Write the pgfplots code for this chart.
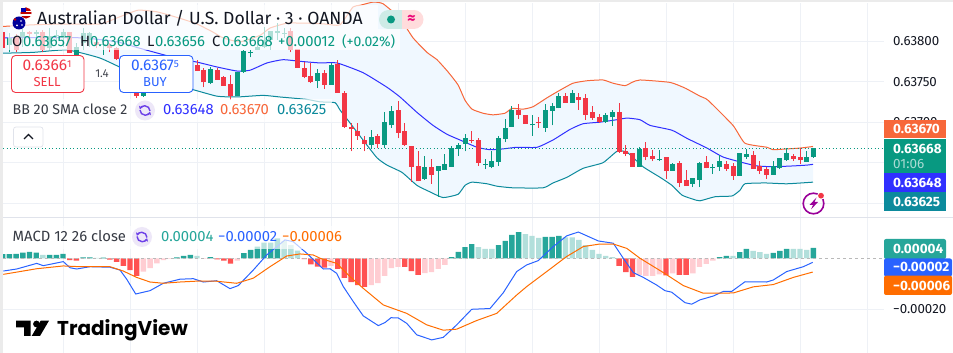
\documentclass[border=0pt]{standalone}
\usepackage{pgfplots}
\usepackage{pgfplotstable}
\pgfplotsset{compat=1.18}
\usepgfplotslibrary{fillbetween}
\usetikzlibrary{arrows.meta}
\usepackage{fontspec}
\setmainfont{Fira Sans}
\newfontfamily\logofont{Poppins}
\definecolor{cgreen}{HTML}{089981}
\definecolor{cred}{HTML}{F23645}
\definecolor{gridc}{HTML}{EEF1F6}
\definecolor{bup}{HTML}{F7673A}
\definecolor{bmid}{HTML}{3030FF}
\definecolor{blow}{HTML}{0C8A9C}
\definecolor{bfill}{HTML}{F0F8FF}
\definecolor{hteal}{HTML}{26A69A}
\definecolor{hlight}{HTML}{B2DFDB}
\definecolor{hred}{HTML}{FF5252}
\definecolor{hpink}{HTML}{FFCDD2}
\definecolor{mblue}{HTML}{2962FF}
\definecolor{morange}{HTML}{FF6D00}
\definecolor{txt}{HTML}{131722}
\definecolor{iconp}{HTML}{6C3FE8}
\definecolor{iconbg}{HTML}{EDE7F8}
\definecolor{sepc}{HTML}{E0E3EB}
\pgfplotstableread{
x o h l c
9.4 0.63795 0.63810 0.63786 0.63804
22.8 0.63805 0.63816 0.63793 0.63811
36.2 0.63809 0.63814 0.63795 0.63811
49.6 0.63791 0.63816 0.63789 0.63806
56.3 0.63806 0.63814 0.63798 0.63807
63 0.63804 0.63815 0.63793 0.63811
76.4 0.63783 0.63798 0.63783 0.63793
83.1 0.63798 0.63816 0.63789 0.63810
89.8 0.63801 0.63811 0.63793 0.63810
103.2 0.63795 0.63799 0.63783 0.63796
143.4 0.63732 0.63750 0.63731 0.63746
210.4 0.63748 0.63768 0.63747 0.63765
237.2 0.63732 0.63762 0.63732 0.63762
243.9 0.63762 0.63789 0.63761 0.63788
250.6 0.63785 0.63789 0.63780 0.63786
257.3 0.63789 0.63799 0.63789 0.63793
264 0.63793 0.63817 0.63791 0.63801
270.7 0.63801 0.63812 0.63789 0.63812
277.4 0.63810 0.63822 0.63801 0.63812
284.1 0.63809 0.63816 0.63804 0.63810
317.6 0.63751 0.63765 0.63742 0.63761
331 0.63746 0.63773 0.63746 0.63770
371.2 0.63672 0.63690 0.63668 0.63682
384.6 0.63672 0.63712 0.63668 0.63700
391.3 0.63696 0.63720 0.63693 0.63714
424.8 0.63630 0.63658 0.63629 0.63645
438.2 0.63640 0.63646 0.63608 0.63646
444.9 0.63641 0.63661 0.63641 0.63648
451.6 0.63645 0.63671 0.63645 0.63668
458.3 0.63667 0.63674 0.63658 0.63672
465 0.63673 0.63685 0.63664 0.63680
485.1 0.63647 0.63655 0.63642 0.63648
491.8 0.63645 0.63664 0.63643 0.63652
498.5 0.63651 0.63683 0.63646 0.63680
505.2 0.63679 0.63704 0.63675 0.63693
511.9 0.63694 0.63720 0.63694 0.63715
532 0.63696 0.63709 0.63683 0.63698
545.4 0.63693 0.63722 0.63688 0.63715
552.1 0.63714 0.63724 0.63696 0.63720
558.8 0.63717 0.63736 0.63717 0.63732
572.2 0.63724 0.63740 0.63724 0.63736
605.7 0.63700 0.63711 0.63699 0.63709
612.4 0.63706 0.63715 0.63695 0.63712
639.2 0.63645 0.63669 0.63645 0.63667
659.3 0.63653 0.63666 0.63652 0.63655
672.7 0.63640 0.63650 0.63640 0.63648
692.8 0.63624 0.63631 0.63620 0.63631
699.5 0.63629 0.63651 0.63620 0.63650
712.9 0.63643 0.63648 0.63636 0.63645
719.6 0.63645 0.63659 0.63640 0.63652
739.7 0.63634 0.63662 0.63634 0.63662
746.4 0.63657 0.63667 0.63655 0.63661
773.2 0.63635 0.63652 0.63635 0.63646
779.9 0.63643 0.63656 0.63642 0.63656
786.6 0.63653 0.63668 0.63652 0.63662
806.7 0.63651 0.63664 0.63651 0.63657
813.4 0.63657 0.63668 0.63656 0.63668
}\upT
\pgfplotstableread{
x o h l c
2.7 0.63811 0.63811 0.63791 0.63791
16.1 0.63805 0.63809 0.63786 0.63789
29.5 0.63811 0.63812 0.63798 0.63809
42.9 0.63811 0.63814 0.63786 0.63789
69.7 0.63811 0.63811 0.63785 0.63785
96.5 0.63799 0.63801 0.63791 0.63795
109.9 0.63795 0.63798 0.63786 0.63791
116.6 0.63791 0.63793 0.63777 0.63778
136.7 0.63745 0.63750 0.63730 0.63732
197 0.63770 0.63777 0.63763 0.63763
203.7 0.63764 0.63767 0.63743 0.63749
217.1 0.63764 0.63767 0.63752 0.63752
223.8 0.63756 0.63757 0.63745 0.63745
230.5 0.63747 0.63758 0.63727 0.63732
290.8 0.63812 0.63816 0.63786 0.63789
297.5 0.63790 0.63790 0.63767 0.63767
304.2 0.63767 0.63774 0.63754 0.63756
310.9 0.63757 0.63773 0.63748 0.63749
324.3 0.63761 0.63764 0.63741 0.63746
337.7 0.63772 0.63777 0.63736 0.63736
344.4 0.63736 0.63738 0.63693 0.63694
351.1 0.63694 0.63699 0.63664 0.63691
357.8 0.63689 0.63699 0.63678 0.63683
364.5 0.63678 0.63683 0.63664 0.63673
377.9 0.63683 0.63685 0.63668 0.63673
398 0.63715 0.63726 0.63680 0.63687
404.7 0.63689 0.63699 0.63671 0.63672
411.4 0.63671 0.63671 0.63626 0.63645
418.1 0.63646 0.63664 0.63627 0.63627
431.5 0.63645 0.63655 0.63624 0.63635
471.7 0.63678 0.63689 0.63674 0.63677
478.4 0.63678 0.63680 0.63646 0.63650
518.6 0.63715 0.63722 0.63704 0.63709
525.3 0.63709 0.63709 0.63698 0.63698
538.7 0.63700 0.63706 0.63693 0.63699
565.5 0.63732 0.63736 0.63724 0.63724
578.9 0.63731 0.63736 0.63715 0.63727
585.6 0.63730 0.63735 0.63703 0.63709
592.3 0.63712 0.63720 0.63703 0.63705
599 0.63706 0.63710 0.63699 0.63700
619.1 0.63712 0.63724 0.63662 0.63663
625.8 0.63664 0.63672 0.63658 0.63661
632.5 0.63662 0.63662 0.63645 0.63645
645.9 0.63668 0.63675 0.63653 0.63657
652.6 0.63658 0.63666 0.63652 0.63655
666 0.63657 0.63657 0.63630 0.63640
679.4 0.63650 0.63652 0.63620 0.63625
686.1 0.63629 0.63641 0.63621 0.63621
706.2 0.63651 0.63658 0.63643 0.63643
726.3 0.63648 0.63652 0.63640 0.63642
733 0.63646 0.63650 0.63629 0.63634
753.1 0.63659 0.63664 0.63642 0.63642
759.8 0.63646 0.63652 0.63636 0.63640
766.5 0.63642 0.63645 0.63630 0.63635
793.3 0.63658 0.63661 0.63652 0.63655
800 0.63657 0.63668 0.63648 0.63653
}\downT
\pgfplotsset{tv/.style={scale only axis,width=881pt,xmin=3,xmax=884,
  axis line style={draw=none},major tick length=0pt,
  xtick={63,130,197,264,331,398,465,532,599,666,733,800,867},xticklabels={},
  grid=major,grid style={draw=gridc,line width=0.8pt},
  yticklabel pos=right,
  y tick label style={anchor=west,inner xsep=0pt,xshift=9pt,font=\fontsize{13.3}{13}\selectfont,text=txt},
  scaled y ticks=false}}
\tikzset{t/.style={anchor=base west,inner sep=0pt,font=\fontsize{14.8}{15}\selectfont},
 tl/.style={anchor=base west,inner sep=0pt,font=\fontsize{14.2}{15}\selectfont},
 tc/.style={anchor=base,inner sep=0pt},
 rl/.style={anchor=base west,inner sep=0pt,text=white,font=\fontsize{13.5}{14}\selectfont\bfseries}}
\begin{document}
\begin{tikzpicture}
% MAIN PANE: the axis runs in thousandths, the data stay in dollars
\begin{axis}[tv,at={(3pt,135pt)},anchor=south west,height=215pt,
  ymin=635.818,ymax=638.469,
  y filter/.expression={y*1000},
  ytick={636,636.5,637,637.5,638},
  yticklabels={,,0.63700,0.63750,0.63800}]
\addplot[name path=U,bup,line width=1pt,smooth,tension=0.3] coordinates {
(3,0.63818)(33,0.63820)(63,0.63821)(100,0.63821)(120,0.63830)(138,0.63838)(157,0.63836)(180,0.63828)(197,0.63821)(213,0.63811)(223,0.63804)(240,0.63799)(260,0.63807)(270,0.63816)(287,0.63822)(307,0.63822)(325,0.63821)(340,0.63820)(353,0.63842)(360,0.63844)(373,0.63848)(383,0.63846)(400,0.63828)(413,0.63804)(427,0.63786)(437,0.63777)(448,0.63762)(458,0.63746)(465,0.63727)(472,0.63716)(483,0.63711)(493,0.63709)(505,0.63711)(512,0.63717)(523,0.63716)(533,0.63719)(547,0.63730)(558,0.63738)(573,0.63748)(587,0.63751)(603,0.63752)(613,0.63748)(625,0.63745)(632,0.63749)(640,0.63752)(670,0.63749)(685,0.63742)(700,0.63732)(708,0.63727)(733,0.63696)(745,0.63674)(767,0.63669)(773,0.63666)(787,0.63667)(800,0.63668)(813,0.63670)};
\addplot[name path=L,blow,line width=1pt,smooth,tension=0.3] coordinates {
(3,0.63785)(33,0.63786)(67,0.63789)(100,0.63779)(130,0.63762)(160,0.63749)(193,0.63740)(217,0.63732)(237,0.63731)(263,0.63733)(280,0.63731)(307,0.63728)(320,0.63725)(335,0.63724)(340,0.63715)(350,0.63699)(363,0.63678)(377,0.63656)(387,0.63647)(402,0.63638)(417,0.63622)(430,0.63614)(443,0.63607)(458,0.63611)(465,0.63622)(472,0.63626)(487,0.63624)(497,0.63621)(513,0.63619)(543,0.63619)(553,0.63625)(567,0.63632)(583,0.63643)(603,0.63650)(617,0.63664)(627,0.63663)(643,0.63645)(660,0.63632)(672,0.63622)(682,0.63610)(693,0.63605)(700,0.63603)(715,0.63608)(732,0.63609)(740,0.63616)(745,0.63624)(765,0.63625)(787,0.63624)(813,0.63626)};
\addplot[fill=bfill,draw=none] fill between[of=U and L];
\addplot[bmid,line width=1pt,smooth,tension=0.3] coordinates {
(3,0.63804)(80,0.63804)(117,0.63799)(140,0.63791)(173,0.63780)(197,0.63774)(217,0.63768)(237,0.63763)(250,0.63764)(267,0.63773)(283,0.63777)(300,0.63775)(320,0.63773)(337,0.63773)(363,0.63761)(387,0.63743)(400,0.63731)(417,0.63712)(433,0.63696)(447,0.63685)(460,0.63678)(477,0.63669)(490,0.63666)(503,0.63667)(517,0.63669)(537,0.63669)(553,0.63678)(570,0.63691)(583,0.63698)(600,0.63700)(617,0.63703)(627,0.63705)(640,0.63703)(650,0.63696)(672,0.63690)(687,0.63680)(707,0.63668)(723,0.63657)(743,0.63650)(757,0.63646)(773,0.63645)(793,0.63646)(807,0.63647)(813,0.63648)};
\addplot[cgreen,line width=0.9pt,dash pattern=on 1pt off 2.5pt] coordinates {(3,0.63668)(884,0.63668)};
% wicks
\addplot[draw=none,no markers,error bars/.cd,y dir=plus,y explicit,error mark=none,error bar style={draw=cgreen,line width=1pt}]
  table[x=x,y=l,y error plus expr=\thisrow{h}*1000-\thisrow{l}*1000] {\upT};
\addplot[draw=none,no markers,error bars/.cd,y dir=plus,y explicit,error mark=none,error bar style={draw=cred,line width=1pt}]
  table[x=x,y=l,y error plus expr=\thisrow{h}*1000-\thisrow{l}*1000] {\downT};
% bodies
\addplot[draw=none,no markers,error bars/.cd,y dir=plus,y explicit,error mark=none,error bar style={draw=cgreen,line width=5pt}]
  table[x=x,y=o,y error plus expr=\thisrow{c}*1000-\thisrow{o}*1000] {\upT};
\addplot[draw=none,no markers,error bars/.cd,y dir=plus,y explicit,error mark=none,error bar style={draw=cred,line width=5pt}]
  table[x=x,y=c,y error plus expr=\thisrow{o}*1000-\thisrow{c}*1000] {\downT};
\end{axis}
% MACD PANE
\begin{axis}[tv,at={(3pt,0pt)},anchor=south west,height=135pt,
  ymin=-37.14e-5,ymax=15.8e-5,
  ytick={-0.0002},yticklabels={−0.00020},
  ybar,bar width=5.4pt,bar shift=0pt]
\addplot[fill=hteal,draw=none] coordinates {
(2.7,1.6e-5)(9.4,1.6e-5)(16.1,1.7e-5)(22.8,2.2e-5)(29.5,2.5e-5)(36.2,2.2e-5)(49.6,1.3e-5)(56.3,1.3e-5)(63,1.7e-5)(83.1,0.4e-5)(89.8,0.4e-5)(103.2,0.3e-5)(176.9,0.4e-5)(183.6,0.9e-5)(190.3,1.3e-5)(210.4,0.5e-5)
(243.9,2.0e-5)(250.6,3.3e-5)(257.3,4.6e-5)(264,6.1e-5)(270.7,6.1e-5)(277.4,7.8e-5)
(451.6,0.5e-5)(458.3,2.5e-5)(465,4.4e-5)(471.7,5.6e-5)(498.5,5.2e-5)(505.2,6.8e-5)(511.9,9.2e-5)(518.6,10.3e-5)(545.4,8.4e-5)(552.1,8.4e-5)(558.8,8.8e-5)
(719.6,0.5e-5)(726.3,0.9e-5)(739.7,2.4e-5)(746.4,3.7e-5)(773.2,2.1e-5)(779.9,2.9e-5)(786.6,3.7e-5)(813.4,4.05e-5)};
\addplot[fill=hlight,draw=none] coordinates {
(42.9,1.3e-5)(96.5,0.2e-5)(197,0.9e-5)(284.1,6.8e-5)(290.8,5.2e-5)(297.5,3.0e-5)
(478.4,4.4e-5)(485.1,3.7e-5)(491.8,3.7e-5)(525.3,9.5e-5)(532,8.8e-5)(538.7,8.0e-5)(565.5,8.2e-5)(572.2,8.2e-5)(578.9,7.2e-5)(585.6,5.2e-5)(592.3,3.3e-5)(599,1.7e-5)(605.7,0.9e-5)(612.4,0.5e-5)
(733,0.9e-5)(753.1,2.9e-5)(759.8,2.4e-5)(766.5,1.7e-5)(793.3,3.7e-5)(800,3.7e-5)(806.7,3.3e-5)};
\addplot[fill=hred,draw=none] coordinates {
(69.7,-0.7e-5)(76.4,-0.9e-5)(109.9,-0.5e-5)(116.6,-1.4e-5)(123.3,-3.0e-5)(130,-4.6e-5)(136.7,-6.9e-5)(217.1,-0.4e-5)(223.8,-0.9e-5)(230.5,-2.1e-5)
(304.2,-0.3e-5)(310.9,-2.4e-5)(317.6,-3.3e-5)(324.3,-3.7e-5)(337.7,-4.2e-5)(344.4,-7.7e-5)(351.1,-9.3e-5)(357.8,-10.5e-5)(364.5,-11.2e-5)(404.7,-3.4e-5)(411.4,-5.0e-5)(418.1,-6.5e-5)
(619.1,-3.0e-5)(625.8,-5.4e-5)(632.5,-7.3e-5)(666,-6.7e-5)(679.4,-6.5e-5)(686.1,-6.5e-5)};
\addplot[fill=hpink,draw=none] coordinates {
(143.4,-5.2e-5)(150.1,-3.9e-5)(156.8,-2.0e-5)(163.5,-0.7e-5)(170.2,-0.2e-5)(203.7,-0.2e-5)(237.2,-0.9e-5)
(331,-3.0e-5)(371.2,-10.5e-5)(377.9,-9.7e-5)(384.6,-6.9e-5)(391.3,-3.9e-5)(398,-3.4e-5)(424.8,-5.8e-5)(431.5,-5.4e-5)(438.2,-4.2e-5)(444.9,-2.6e-5)
(639.2,-6.5e-5)(645.9,-6.9e-5)(652.6,-6.9e-5)(659.3,-6.3e-5)(672.7,-5.9e-5)(692.8,-5.9e-5)(699.5,-3.4e-5)(706.2,-2.2e-5)(712.9,-0.9e-5)};
\addplot[sharp plot,draw=gray!55,dashed,line width=0.8pt,forget plot] coordinates {(3,0)(884,0)};
\addplot[sharp plot,mblue,line width=1pt] coordinates {
(3.3,-5.0e-5)(16.7,-4.2e-5)(36.7,-2.0e-5)(43.3,-2.9e-5)(63.3,-1.3e-5)(70,-3.7e-5)(76.7,-4.2e-5)(90,-3.3e-5)(110,-3.5e-5)(120,-4.6e-5)(126.7,-8.2e-5)(135.7,-14e-5)(150,-12.7e-5)(163.3,-9.8e-5)(180,-8.2e-5)(193.3,-8.0e-5)(203.3,-9.3e-5)(216.7,-8.8e-5)(230,-11.9e-5)(238.3,-10.7e-5)(253.3,-4.6e-5)(266.7,1.3e-5)(285,7.2e-5)(293.3,6.5e-5)(306.7,2.0e-5)(320,-3.0e-5)(323.3,-4.2e-5)(330,-4.1e-5)(336.7,-5.9e-5)(343.3,-11.1e-5)(353.3,-17e-5)(363.3,-22.6e-5)(378.3,-26.4e-5)(385,-25.2e-5)(391,-23.3e-5)(398.3,-23.4e-5)(406.7,-25.5e-5)(416.7,-30e-5)(431.7,-32e-5)(443.3,-31e-5)(456.7,-26.1e-5)(471.7,-20e-5)(490,-19.7e-5)(503.3,-13.5e-5)(516.7,-5.2e-5)(526.7,-2.6e-5)(538.3,-0.9e-5)(553.3,4.6e-5)(566.7,8.8e-5)(578.3,10.3e-5)(598.3,6.8e-5)(613.3,5.9e-5)(623.3,0e-5)(633.3,-5.6e-5)(643.3,-7.5e-5)(656.7,-10.5e-5)(665,-12.7e-5)(671.7,-13.3e-5)(685,-17.4e-5)(691.7,-18e-5)(700,-16.3e-5)(713.3,-14.8e-5)(723.3,-13e-5)(731.7,-13e-5)(745,-9.2e-5)(766.7,-9.3e-5)(773.3,-8.5e-5)(786.7,-5.2e-5)(803.3,-3.3e-5)(812.7,-1.6e-5)};
\addplot[sharp plot,morange,line width=1pt] coordinates {
(3.3,-6.3e-5)(20,-5.2e-5)(36.7,-4.1e-5)(63.3,-3.0e-5)(80,-3.3e-5)(110,-3.3e-5)(123.3,-5.0e-5)(136.7,-7.5e-5)(150,-9.3e-5)(163.3,-9.8e-5)(180,-9.3e-5)(200,-8.9e-5)(216.7,-9.0e-5)(236.7,-9.8e-5)(253.3,-7.8e-5)(270,-3.3e-5)(286.7,0.9e-5)(300,1.7e-5)(313.3,1.3e-5)(320,0e-5)(336.7,-2.0e-5)(350,-7.2e-5)(363.3,-11.8e-5)(383.3,-18.3e-5)(406.7,-21.6e-5)(426.7,-26.1e-5)(443.3,-28.2e-5)(456.7,-27.8e-5)(476.7,-24.4e-5)(496.7,-21.6e-5)(516.7,-14.4e-5)(526.7,-11.1e-5)(546.7,-5.2e-5)(566.7,0.7e-5)(583.3,4.6e-5)(600,5.6e-5)(613.3,5.6e-5)(626.7,3.9e-5)(640,0e-5)(663.3,-5.6e-5)(683.3,-10.7e-5)(703.3,-13.7e-5)(733.3,-13.6e-5)(753.3,-11.2e-5)(773.3,-10.3e-5)(793.3,-7.5e-5)(812.7,-5.4e-5)};
\end{axis}
% OVERLAYS in pixel coordinates of the reference
\begin{scope}[x=1pt,y=-1pt,yshift=353pt]
\draw[draw=sepc,line width=1pt] (0,218) -- (953,218);
\fill[white,opacity=.68] (10,5) rectangle (378,29);
\fill[white,opacity=.68] (8,29) rectangle (400,50);
\fill[white,opacity=.68] (8,99) rectangle (332,122);
\fill[white,opacity=.68] (8,226) rectangle (345,249);
\fill[black!8] (0,0) rectangle (953,2);
\fill[black!8] (0,0) rectangle (3,353);
% flags
\fill[red!75!black] (26,13) circle (5.6);
\fill[white] (21,11) rectangle (31,12.5);
\fill[white] (21,14.5) rectangle (31,16);
\fill[blue!70!black] (21,8) rectangle (26,12.5);
\fill[blue!60!black] (19,23) circle (6.5);
\fill[red!80!black] (15,19.5) circle (1.4);
\fill[white] (21,21) circle (.8) (22,25) circle (.8) (17,25.5) circle (1);
% title
\node[tl,text=txt,font=\fontsize{17.6}{18}\selectfont] at (37,25) {Australian Dollar / U.S. Dollar · 3 · OANDA};
\fill[cgreen!20] (388.5,19.5) circle (9.5);
\fill[cgreen!20] (388.5,10) rectangle (402,29);
\fill[pink!55] (414,19.5) circle (9.5);
\fill[pink!55] (402,10) rectangle (414,29);
\fill[cgreen] (391,19.5) circle (4);
\node[anchor=center,inner sep=0pt,text=magenta!80!red,font=\fontsize{16}{16}\selectfont\bfseries] at (411.5,19.5) {≈};
% OHLC
\node[t,text=txt] at (12,47) {O};
\node[t,text=cgreen] at (23,47) {0.63657};
\node[t,text=txt] at (80,47) {H};
\node[t,text=cgreen] at (90,47) {0.63668};
\node[t,text=txt] at (147,47) {L};
\node[t,text=cgreen] at (155,47) {0.63656};
\node[t,text=txt] at (212,47) {C};
\node[t,text=cgreen] at (222,47) {0.63668};
\node[t,text=cgreen] at (278,47) {+0.00012};
\node[t,text=cgreen,font=\fontsize{14}{15}\selectfont] at (342,47) {(+0.02\%)};
% sell / buy
\draw[cred,fill=white,line width=.9pt,rounded corners=4pt] (11.5,55.5) rectangle (84,92.5);
\draw[mblue,fill=white,line width=.9pt,rounded corners=4pt] (119.5,55.5) rectangle (193,92.5);
\node[tc,text=cred,font=\fontsize{15.5}{15}\selectfont] at (47,71) {0.6366\raisebox{3pt}{\fontsize{10}{10}\selectfont 1}};
\node[tc,text=cred,font=\fontsize{13}{13}\selectfont] at (47,87) {SELL};
\node[tc,text=mblue,font=\fontsize{15.5}{15}\selectfont] at (155,71) {0.6367\raisebox{3pt}{\fontsize{10}{10}\selectfont 5}};
\node[tc,text=mblue,font=\fontsize{13}{13}\selectfont] at (155,87) {BUY};
\node[tc,text=txt!80,font=\fontsize{11.5}{12}\selectfont] at (102,78) {1.4};
% BB legend
\node[tl,text=txt!85] at (12.5,115) {BB 20 SMA close 2};
\fill[iconbg] (145,110.5) circle (10);
\draw[iconp,line width=1.4pt,-{Stealth[length=3pt,width=4pt]}] (140,110) arc (180:20:5.2);
\draw[iconp,line width=1.4pt,-{Stealth[length=3pt,width=4pt]}] (150,111) arc (0:-160:5.2);
\node[t,text=bmid] at (163,115) {0.63648};
\node[t,text=bup] at (220,115) {0.63670};
\node[t,text=blow] at (277,115) {0.63625};
% chevron
\draw[sepc,fill=white,line width=.7pt,rounded corners=2.5pt] (13.5,127) rectangle (43,147);
\draw[txt,line width=1.3pt] (24,139) -- (28.5,134.5) -- (33,139);
% MACD legend
\node[tl,text=txt!85,font=\fontsize{14.8}{15}\selectfont] at (12.5,242) {MACD 12 26 close};
\fill[iconbg] (142,237) circle (10);
\draw[iconp,line width=1.4pt,-{Stealth[length=3pt,width=4pt]}] (137,236.5) arc (180:20:5.2);
\draw[iconp,line width=1.4pt,-{Stealth[length=3pt,width=4pt]}] (147,237.5) arc (0:-160:5.2);
\node[t,text=hteal] at (161,242) {0.00004};
\node[t,text=mblue] at (218,242) {−0.00002};
\node[t,text=morange] at (282,242) {−0.00006};
% price labels
\fill[bup] (884,120) rectangle (946,138.5);
\node[rl] at (893,134) {0.63670};
\fill[cgreen] (884,139) rectangle (946,172.7);
\node[rl] at (893,153.5) {0.63668};
\node[rl,text=white!65!cgreen,font=\fontsize{13.5}{14}\selectfont] at (893,169) {01:06};
\fill[bmid] (884,173.5) rectangle (946,191.7);
\node[rl] at (893,187.5) {0.63648};
\fill[blow] (884,192.5) rectangle (946,211);
\node[rl] at (893,206.5) {0.63625};
\fill[hteal,rounded corners=2pt] (884,239) rectangle (946,259);
\node[rl] at (893,254) {0.00004};
\fill[mblue,rounded corners=2pt] (884,258.5) rectangle (952,276.5);
\node[rl] at (893,272) {−0.00002};
\fill[morange,rounded corners=2pt] (884,275.7) rectangle (952,295);
\node[rl] at (893,290.5) {−0.00006};
% lightning
\draw[violet!80!magenta,line width=1.6pt] (813.5,203.5) circle (10.3);
\fill[violet!80!magenta] (816.5,197.5) -- (809.5,205) -- (813,205) -- (811,209.5) -- (818,202) -- (814.5,202) -- cycle;
\fill[white] (821,195.7) circle (4);
\fill[cred] (821,195.7) circle (2.9);
% logo
\fill[black] (16,320.7) -- (30.7,320.7) -- (30.7,336) -- (24,336) -- (24,327.5) -- (16,327.5) -- cycle;
\fill[black] (36.5,324) circle (3.4);
\fill[black] (49,320.7) -- (40,336) -- (31.7,336) -- (40.7,320.7) -- cycle;
\node[anchor=base west,inner sep=0pt,font=\logofont\fontsize{20}{20}\selectfont\bfseries,text=black] at (57,336) {TradingView};
\end{scope}
\pgfresetboundingbox
\path[use as bounding box] (0,0) rectangle (953pt,353pt);
\end{tikzpicture}
\end{document}
